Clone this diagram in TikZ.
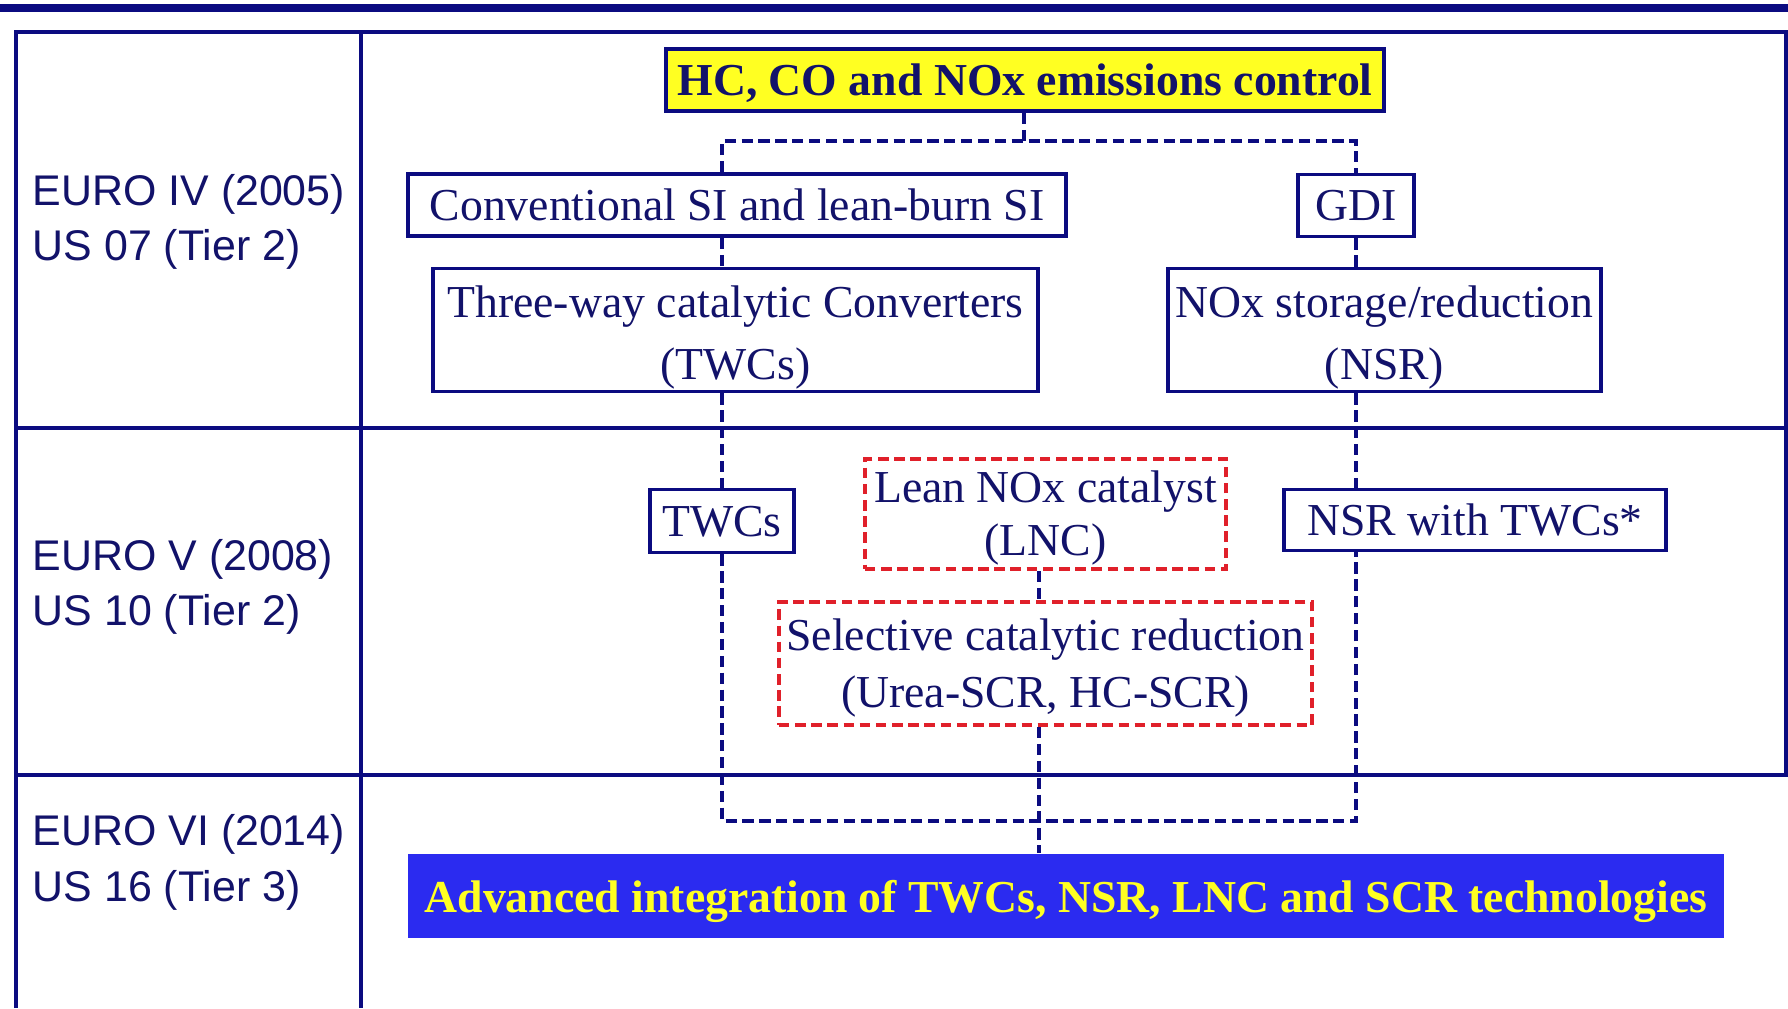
\documentclass[tikz,border=0pt]{standalone}
\usepackage{fontspec}
\setmainfont{Liberation Serif}
\setsansfont{Liberation Sans}
\usepackage{tikz}
\usetikzlibrary{calc}
\definecolor{navy}{HTML}{0B0B80}
\definecolor{ink}{HTML}{12126A}
\definecolor{dashred}{HTML}{E0202A}
\definecolor{bandblue}{HTML}{2B2BF0}
\definecolor{hiyellow}{HTML}{FFFF22}

\begin{document}
\begin{tikzpicture}[x=0.01cm,y=-0.01cm,
  grid/.style={navy,line width=1.3pt},
  stage/.style={font=\sffamily\fontsize{12.2}{14}\selectfont,text=ink,anchor=west,inner sep=0pt},
  tech/.style={draw=navy,line width=1.1pt,text=ink,font=\fontsize{13}{17.5}\selectfont,align=center,inner sep=0pt,text depth=0pt},
  newtech/.style={tech,draw=dashred,dash pattern=on 3pt off 1.6pt},
  goal/.style={tech,fill=hiyellow,font=\bfseries\fontsize{13}{16}\selectfont},
  band/.style={fill=bandblue,text=hiyellow,font=\bfseries\fontsize{13}{16}\selectfont,inner sep=0pt,text depth=0pt},
  link/.style={navy,line width=1pt,dash pattern=on 3.2pt off 1.6pt}]
  \useasboundingbox (0,0) rectangle (1788,1008);
  \fill[white] (0,0) rectangle (1788,1008);
  % header band and table frame
  \fill[navy] (0,4) rectangle (1788,12);
  \draw[grid] (16,1008) -- (16,32) -- (1786,32) -- (1786,775);
  \draw[grid] (361,32) -- (361,1008);
  \draw[grid] (16,428) -- (1788,428);
  \draw[grid] (16,775) -- (1788,775);

  % emission standards
  \node[stage] (euro4) at (32,194) {EURO IV (2005)};
  \node[stage] (us07) at (32,249) {US 07 (Tier 2)};
  \node[stage] (euro5) at (32,559) {EURO V (2008)};
  \node[stage] (us10) at (32,614) {US 10 (Tier 2)};
  \node[stage] (euro6) at (32,834) {EURO VI (2014)};
  \node[stage] (us16) at (32,890) {US 16 (Tier 3)};

  % technologies
  \node[goal,minimum width=7.18cm,minimum height=0.62cm] (goal) at (1025,80) {HC, CO and NOx emissions control};
  \node[tech,minimum width=6.58cm,minimum height=0.62cm] (conv) at (737,205) {Conventional SI and lean-burn SI};
  \node[tech,minimum width=1.16cm,minimum height=0.62cm] (gdi) at (1356,205.5) {GDI};
  \node[tech,minimum width=6.05cm,minimum height=1.23cm,text height=28.1pt] (twc) at (735.5,330) {Three-way catalytic Converters\\(TWCs)};
  \node[tech,minimum width=4.33cm,minimum height=1.23cm,text height=28.1pt] (nsr) at (1384.5,330) {NOx storage/reduction\\(NSR)};
  \node[tech,minimum width=1.44cm,minimum height=0.63cm] (twcs) at (722,521) {TWCs};
  \node[newtech,minimum width=3.61cm,minimum height=1.1cm,text height=23.5pt,font=\fontsize{13}{14.9}\selectfont] (lnc) at (1045.5,514) {Lean NOx catalyst\\(LNC)};
  \node[tech,minimum width=3.82cm,minimum height=0.61cm] (nsrt) at (1475,520) {NSR with TWCs*};
  \node[newtech,minimum width=5.33cm,minimum height=1.23cm,text height=24.8pt,font=\fontsize{13}{16.2}\selectfont] (scr) at (1045.5,663.5) {Selective catalytic reduction\\(Urea-SCR, HC-SCR)};
  \node[band,minimum width=13.16cm,minimum height=0.84cm] (band) at (1066,896) {Advanced integration of TWCs, NSR, LNC and SCR technologies};

  % dashed links
  \coordinate (split) at (1024,141);
  \coordinate (merge) at (1039,821);
  \draw[link] (goal.south -| split) -- (split);
  \draw[link] (conv.north -| twcs) -- (twcs |- split) -- (gdi |- split) -- (gdi.north);
  \draw[link] (conv.south -| twcs) -- (twc.north -| twcs);
  \draw[link] (gdi.south) -- (nsr.north -| gdi);
  \draw[link] (twc.south -| twcs) -- (twcs.north);
  \draw[link] (nsr.south -| gdi) -- (nsrt.north -| gdi);
  \draw[link] (twcs.south) -- (twcs |- merge) -- (gdi |- merge) -- (nsrt.south -| gdi);
  \draw[link] (lnc.south -| merge) -- (scr.north -| merge);
  \draw[link] (scr.south -| merge) -- (band.north -| merge);
\end{tikzpicture}
\end{document}
